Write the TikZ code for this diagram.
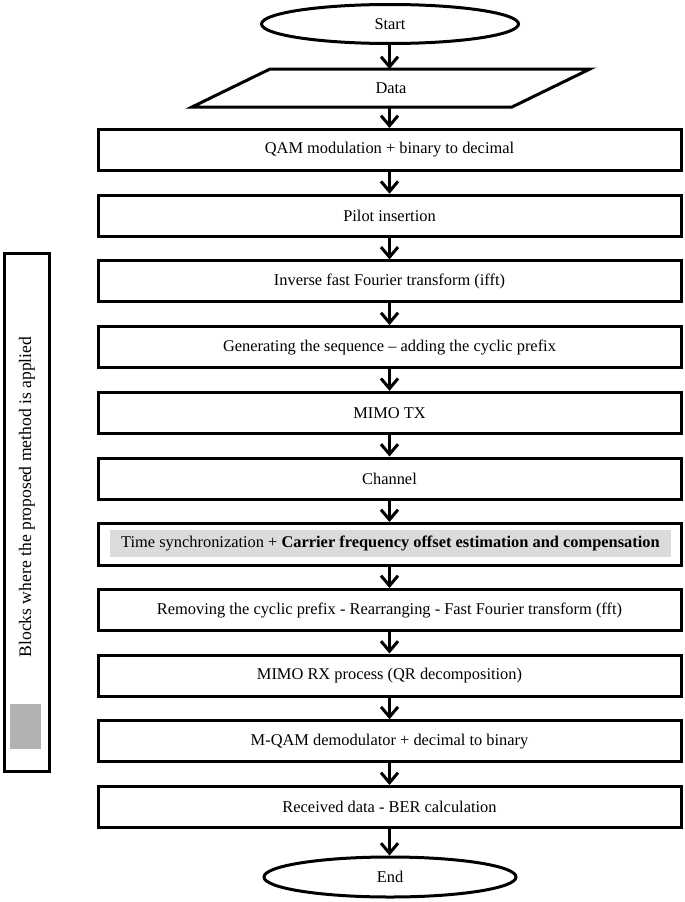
\documentclass[tikz,border=0pt]{standalone}
\usepackage{fontspec}
\setmainfont{Liberation Serif}
\usetikzlibrary{shapes.geometric,arrows.meta,calc}
\begin{document}
\begin{tikzpicture}[x=1pt,y=-1pt,
  every node/.style={font=\fontsize{16.4}{19}\selectfont, inner sep=0pt},
  procbox/.style={draw, line width=3pt, minimum width=583pt, minimum height=41pt},
  term/.style={draw, ellipse, line width=3pt},
  flow/.style={line width=3pt, -{Straight Barb[length=10pt,width=17pt]}},
]
\useasboundingbox (0,0) rectangle (685,902);
\fill[white] (0,0) rectangle (685,902);

\node[term, minimum width=257pt, minimum height=39pt] (start) at (390,24) {Start};

\node[minimum width=240pt, minimum height=38pt, outer sep=0pt] (data) at (391,88) {Data};
\draw[line width=3pt, line join=miter]
  ($(data.north)+(-121,0)$) -- ($(data.north)+(199,0)$) --
  ($(data.south)+(121,0)$) -- ($(data.south)+(-199,0)$) -- cycle;

\node[procbox] (b1) at (389.5,150) {QAM modulation + binary to decimal};
\node[procbox] (b2) at (389.5,215.7) {Pilot insertion};
\node[procbox] (b3) at (389.5,281.4) {Inverse fast Fourier transform (ifft)};
\node[procbox] (b4) at (389.5,347.1) {Generating the sequence -- adding the cyclic prefix};
\node[procbox] (b5) at (389.5,412.8) {MIMO TX};
\node[procbox] (b6) at (389.5,478.5) {Channel};
\node[procbox, minimum height=42pt] (b7) at (389.5,544.5) {};
\node[fill=black!14, minimum width=561pt, minimum height=27pt] (b7t) at (390.5,543.5)
  {Time synchronization + \textbf{Carrier frequency offset estimation and compensation}};
\node[procbox] (b8) at (389.5,610) {Removing the cyclic prefix - Rearranging - Fast Fourier transform (fft)};
\node[procbox] (b9) at (389.5,675.5) {MIMO RX process (QR decomposition)};
\node[procbox] (b10) at (389.5,741.2) {M-QAM demodulator + decimal to binary};
\node[procbox] (b11) at (389.5,807) {Received data - BER calculation};

\node[term, minimum width=252pt, minimum height=40pt] (end) at (390,877) {End};

\draw[flow] (start.south -| b1.north) -- (data.north -| b1.north);
\draw[flow] (data.south -| b1.north) -- (b1.north);
\draw[flow] (b1) -- (b2);
\draw[flow] (b2) -- (b3);
\draw[flow] (b3) -- (b4);
\draw[flow] (b4) -- (b5);
\draw[flow] (b5) -- (b6);
\draw[flow] (b6) -- (b7);
\draw[flow] (b7) -- (b8);
\draw[flow] (b8) -- (b9);
\draw[flow] (b9) -- (b10);
\draw[flow] (b10) -- (b11);
\draw[flow] (b11.south) -- (b11.south |- end.north);

\node[draw, line width=3.5pt, minimum width=45pt, minimum height=518pt] (legend) at (27,512.5) {};
\node[rotate=90, font=\fontsize{17.6}{20}\selectfont] (legtext) at (27,497) {Blocks where the proposed method is applied};
\node[fill=black!30, minimum width=31pt, minimum height=45pt] (legsq) at (25.5,726.5) {};
\end{tikzpicture}
\end{document}
